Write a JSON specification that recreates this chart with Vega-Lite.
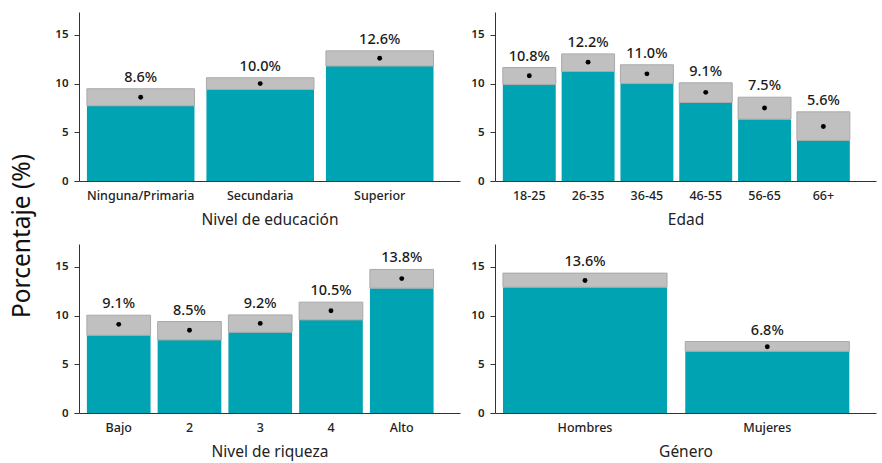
{
  "$schema": "https://vega.github.io/schema/vega-lite/v6.json",
  "padding": {"left": 10, "top": 12, "right": 4, "bottom": 2},
  "autosize": {"type": "pad"},
  "title": {"text": "Porcentaje (%)", "orient": "left", "anchor": "middle", "fontSize": 24.5, "font": "Noto Sans", "fontWeight": "normal", "color": "#111111", "offset": 19},
  "config": {
    "font": "Noto Sans",
    "view": {"stroke": null},
    "axis": {"grid": false, "domainColor": "#333333", "tickColor": "#333333", "labelColor": "#222222", "titleColor": "#222222", "labelFont": "Noto Sans", "titleFont": "Noto Sans"},
    "axisX": {"ticks": false, "labelPadding": 8, "labelFontSize": 12.5, "labelFontWeight": 500, "labelAngle": 0, "titleFontSize": 15.5, "titleFontWeight": "normal", "titlePadding": 11},
    "axisY": {"values": [0, 5, 10, 15], "tickSize": 5, "labelPadding": 6, "labelFontSize": 11.5, "labelFontWeight": 600, "title": null}
  },
  "datasets": {
    "d": [
      {"panel": "edu", "cat": "Ninguna/Primaria", "lo": 7.72, "hi": 9.47, "est": 8.6, "label": "8.6%"},
      {"panel": "edu", "cat": "Secundaria", "lo": 9.4, "hi": 10.6, "est": 10.0, "label": "10.0%"},
      {"panel": "edu", "cat": "Superior", "lo": 11.8, "hi": 13.36, "est": 12.6, "label": "12.6%"},
      {"panel": "age", "cat": "18-25", "lo": 9.9, "hi": 11.65, "est": 10.8, "label": "10.8%"},
      {"panel": "age", "cat": "26-35", "lo": 11.24, "hi": 13.05, "est": 12.2, "label": "12.2%"},
      {"panel": "age", "cat": "36-45", "lo": 10.0, "hi": 11.93, "est": 11.0, "label": "11.0%"},
      {"panel": "age", "cat": "46-55", "lo": 8.06, "hi": 10.08, "est": 9.1, "label": "9.1%"},
      {"panel": "age", "cat": "56-65", "lo": 6.35, "hi": 8.6, "est": 7.5, "label": "7.5%"},
      {"panel": "age", "cat": "66+", "lo": 4.16, "hi": 7.1, "est": 5.6, "label": "5.6%"},
      {"panel": "wealth", "cat": "Bajo", "lo": 7.98, "hi": 10.04, "est": 9.1, "label": "9.1%"},
      {"panel": "wealth", "cat": "2", "lo": 7.5, "hi": 9.39, "est": 8.5, "label": "8.5%"},
      {"panel": "wealth", "cat": "3", "lo": 8.29, "hi": 10.07, "est": 9.2, "label": "9.2%"},
      {"panel": "wealth", "cat": "4", "lo": 9.56, "hi": 11.38, "est": 10.5, "label": "10.5%"},
      {"panel": "wealth", "cat": "Alto", "lo": 12.82, "hi": 14.74, "est": 13.8, "label": "13.8%"},
      {"panel": "gender", "cat": "Hombres", "lo": 12.92, "hi": 14.36, "est": 13.6, "label": "13.6%"},
      {"panel": "gender", "cat": "Mujeres", "lo": 6.34, "hi": 7.34, "est": 6.8, "label": "6.8%"}
    ]
  },
  "spacing": 16,
  "vconcat": [
    {
      "spacing": 10,
      "hconcat": [
        {
          "width": 381, "height": 169,
          "data": {"name": "d"},
          "transform": [{"filter": "datum.panel == 'edu'"}],
          "encoding": {"x": {"field": "cat", "type": "nominal", "sort": null, "scale": {"paddingInner": 0.1, "paddingOuter": 0.144, "align": 0.23}, "axis": {"title": "Nivel de educación"}}},
          "layer": [
            {"mark": {"type": "bar", "color": "#00a3b1"}, "encoding": {"y": {"field": "lo", "type": "quantitative", "scale": {"domain": [0, 17.35], "nice": false}}}},
            {"mark": {"type": "bar", "color": "#c0c0c0", "stroke": "#a9a9a9", "strokeWidth": 1}, "encoding": {"y": {"field": "lo", "type": "quantitative"}, "y2": {"field": "hi"}}},
            {"mark": {"type": "point", "filled": true, "color": "#000000", "size": 24, "opacity": 1}, "encoding": {"y": {"field": "est", "type": "quantitative"}}},
            {"mark": {"type": "text", "baseline": "bottom", "dy": -4, "fontSize": 14.5, "fontWeight": 500, "color": "#1a1a1a"}, "encoding": {"y": {"field": "hi", "type": "quantitative"}, "text": {"field": "label"}}}
          ]
        },
        {
          "width": 381, "height": 169,
          "data": {"name": "d"},
          "transform": [{"filter": "datum.panel == 'age'"}],
          "encoding": {"x": {"field": "cat", "type": "nominal", "sort": null, "scale": {"paddingInner": 0.1, "paddingOuter": 0.289, "align": 0.23}, "axis": {"title": "Edad"}}},
          "layer": [
            {"mark": {"type": "bar", "color": "#00a3b1"}, "encoding": {"y": {"field": "lo", "type": "quantitative", "scale": {"domain": [0, 17.35], "nice": false}}}},
            {"mark": {"type": "bar", "color": "#c0c0c0", "stroke": "#a9a9a9", "strokeWidth": 1}, "encoding": {"y": {"field": "lo", "type": "quantitative"}, "y2": {"field": "hi"}}},
            {"mark": {"type": "point", "filled": true, "color": "#000000", "size": 24, "opacity": 1}, "encoding": {"y": {"field": "est", "type": "quantitative"}}},
            {"mark": {"type": "text", "baseline": "bottom", "dy": -4, "fontSize": 14.5, "fontWeight": 500, "color": "#1a1a1a"}, "encoding": {"y": {"field": "hi", "type": "quantitative"}, "text": {"field": "label"}}}
          ]
        }
      ]
    },
    {
      "spacing": 10,
      "hconcat": [
        {
          "width": 381, "height": 169,
          "data": {"name": "d"},
          "transform": [{"filter": "datum.panel == 'wealth'"}],
          "encoding": {"x": {"field": "cat", "type": "nominal", "sort": null, "scale": {"paddingInner": 0.1, "paddingOuter": 0.2425, "align": 0.23}, "axis": {"title": "Nivel de riqueza"}}},
          "layer": [
            {"mark": {"type": "bar", "color": "#00a3b1"}, "encoding": {"y": {"field": "lo", "type": "quantitative", "scale": {"domain": [0, 17.35], "nice": false}}}},
            {"mark": {"type": "bar", "color": "#c0c0c0", "stroke": "#a9a9a9", "strokeWidth": 1}, "encoding": {"y": {"field": "lo", "type": "quantitative"}, "y2": {"field": "hi"}}},
            {"mark": {"type": "point", "filled": true, "color": "#000000", "size": 24, "opacity": 1}, "encoding": {"y": {"field": "est", "type": "quantitative"}}},
            {"mark": {"type": "text", "baseline": "bottom", "dy": -4, "fontSize": 14.5, "fontWeight": 500, "color": "#1a1a1a"}, "encoding": {"y": {"field": "hi", "type": "quantitative"}, "text": {"field": "label"}}}
          ]
        },
        {
          "width": 381, "height": 169,
          "data": {"name": "d"},
          "transform": [{"filter": "datum.panel == 'gender'"}],
          "encoding": {"x": {"field": "cat", "type": "nominal", "sort": null, "scale": {"paddingInner": 0.1, "paddingOuter": 0.095, "align": 0.23}, "axis": {"title": "Género"}}},
          "layer": [
            {"mark": {"type": "bar", "color": "#00a3b1"}, "encoding": {"y": {"field": "lo", "type": "quantitative", "scale": {"domain": [0, 17.35], "nice": false}}}},
            {"mark": {"type": "bar", "color": "#c0c0c0", "stroke": "#a9a9a9", "strokeWidth": 1}, "encoding": {"y": {"field": "lo", "type": "quantitative"}, "y2": {"field": "hi"}}},
            {"mark": {"type": "point", "filled": true, "color": "#000000", "size": 24, "opacity": 1}, "encoding": {"y": {"field": "est", "type": "quantitative"}}},
            {"mark": {"type": "text", "baseline": "bottom", "dy": -4, "fontSize": 14.5, "fontWeight": 500, "color": "#1a1a1a"}, "encoding": {"y": {"field": "hi", "type": "quantitative"}, "text": {"field": "label"}}}
          ]
        }
      ]
    }
  ]
}
